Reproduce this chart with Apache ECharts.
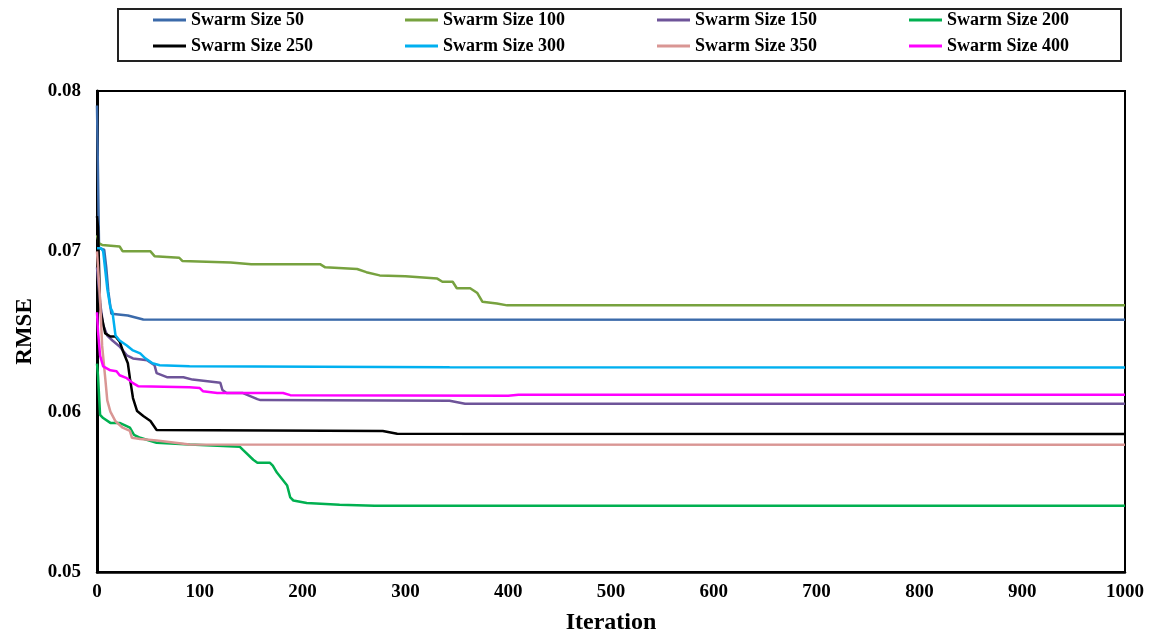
<!DOCTYPE html>
<html>
<head>
<meta charset="utf-8">
<script src="https://cdn.jsdelivr.net/npm/echarts@6/dist/echarts.min.js"></script>
<style>
html,body{margin:0;padding:0;background:#fff;}
#chart{width:1150px;height:640px;}
</style>
</head>
<body>
<div id="chart"></div>
<script>
// ---- data (iteration, RMSE) ----
const seriesNames = ['Swarm Size 50','Swarm Size 100','Swarm Size 150','Swarm Size 200','Swarm Size 250','Swarm Size 300','Swarm Size 350','Swarm Size 400'];
const xTicks = [0,100,200,300,400,500,600,700,800,900,1000];
const yTicks = [0.05,0.06,0.07,0.08];

const swarm50 = [[0,0.0791],[1,0.0790],[2,0.0702],[7,0.0701],[9,0.0690],[11,0.0675],[14,0.0661],[30,0.0660],[45,0.06575],[1000,0.06574]];
const swarm100 = [[0,0.0710],[2,0.0705],[5,0.0704],[22,0.0703],[25,0.0700],[52,0.0700],[56,0.0697],[80,0.0696],[83,0.0694],[130,0.0693],[150,0.0692],[217,0.0692],[222,0.0690],[253,0.0689],[262,0.0687],[275,0.0685],[300,0.06845],[331,0.0683],[336,0.0681],[346,0.0681],[350,0.0677],[363,0.0677],[370,0.0674],[375,0.06685],[389,0.06674],[399,0.06663],[1000,0.06663]];
const swarm150 = [[0,0.0690],[3,0.0668],[6,0.0654],[10,0.06475],[15,0.06444],[22,0.06407],[29,0.06351],[35,0.06332],[49,0.0632],[56,0.06289],[58,0.0624],[68,0.06215],[84,0.06215],[93,0.0620],[120,0.0618],[122,0.06135],[126,0.06116],[142,0.06116],[149,0.06097],[156,0.06078],[159,0.06072],[343,0.06068],[358,0.0605],[1000,0.06049]];
const swarm200 = [[0,0.0630],[1,0.0622],[3,0.0598],[6,0.0596],[13,0.0593],[22,0.0593],[32,0.0590],[36,0.05855],[42,0.05837],[58,0.05806],[90,0.05795],[139,0.05781],[142,0.05762],[152,0.0570],[156,0.05682],[168,0.05682],[171,0.05663],[175,0.0562],[185,0.05539],[188,0.05465],[191,0.05446],[204,0.0543],[236,0.0542],[270,0.05413],[1000,0.05413]];
const swarm250 = [[0,0.0722],[1,0.0715],[3,0.0664],[8,0.06488],[13,0.06469],[18,0.06469],[22,0.06438],[25,0.06382],[30,0.06302],[32,0.06209],[35,0.06085],[39,0.06004],[45,0.05973],[52,0.05942],[58,0.05886],[278,0.0588],[292,0.05862],[1000,0.0586]];
const swarm300 = [[0,0.0702],[4,0.0702],[6,0.0700],[10,0.06767],[13,0.0665],[15,0.06624],[18,0.06475],[22,0.06444],[29,0.06413],[35,0.06382],[42,0.06364],[47,0.06333],[54,0.06302],[61,0.0629],[90,0.06283],[343,0.06277],[1000,0.06275]];
const swarm350 = [[0,0.0700],[3,0.0670],[5,0.0641],[8,0.0621],[10,0.0607],[13,0.0600],[18,0.0594],[25,0.0590],[32,0.0588],[34,0.05837],[42,0.0583],[58,0.0582],[90,0.05795],[1000,0.05793]];
const swarm400 = [[0,0.0662],[1,0.0650],[3,0.0635],[6,0.06283],[13,0.06258],[19,0.06252],[22,0.06227],[29,0.06209],[35,0.06178],[40,0.06159],[90,0.06152],[100,0.06147],[103,0.06128],[117,0.06116],[181,0.06116],[188,0.06103],[400,0.06100],[410,0.06105],[1000,0.06105]];

const allData = [swarm50, swarm100, swarm150, swarm200, swarm250, swarm300, swarm350, swarm400];
const colors = ['#3B6AAA','#77A23F','#6E5499','#00B050','#000000','#00B0F0','#D99694','#FF00FF'];

const FONT = '"Liberation Serif", "Times New Roman", serif';

const chart = echarts.init(document.getElementById('chart'), null, {renderer:'canvas'});
const option = {
  animation: false,
  backgroundColor: '#fff',
  color: colors,
  graphic: [{
    type: 'rect', left: 117, top: 8, z: -1,
    shape: {width: 1003, height: 52},
    style: {fill: '#fff', stroke: '#222', lineWidth: 2}
  }],
  legend: {
    data: seriesNames,
    left: 153, top: 11, width: 1010,
    padding: 0,
    icon: 'rect',
    itemWidth: 33, itemHeight: 3, itemGap: 8,
    textStyle: {fontFamily: FONT, fontWeight: 'bold', fontSize: 18, color: '#000', width: 206, lineHeight: 14}
  },
  grid: {left: 97, right: 25, top: 91, bottom: 65, show: true, borderColor: '#000', borderWidth: 2, backgroundColor: 'transparent'},
  xAxis: {
    type: 'value', min: 0, max: 1000, interval: 100,
    name: 'Iteration', nameLocation: 'middle', nameGap: 39,
    nameTextStyle: {fontFamily: FONT, fontWeight: 'bold', fontSize: 24, color: '#000'},
    axisLine: {show: true, lineStyle: {color: '#000', width: 2.5}},
    axisTick: {show: false},
    splitLine: {show: false},
    axisLabel: {fontFamily: FONT, fontWeight: 'bold', fontSize: 19, color: '#000', margin: 11,
      formatter: v => xTicks.includes(v) ? String(v) : ''}
  },
  yAxis: {
    type: 'value', min: 0.05, max: 0.08, interval: 0.01,
    name: 'RMSE', nameLocation: 'middle', nameGap: 59, nameRotate: 90,
    nameTextStyle: {fontFamily: FONT, fontWeight: 'bold', fontSize: 23, color: '#000'},
    axisLine: {show: true, lineStyle: {color: '#000', width: 3}},
    axisTick: {show: false},
    splitLine: {show: false},
    axisLabel: {fontFamily: FONT, fontWeight: 'bold', fontSize: 19, color: '#000', margin: 16,
      formatter: v => { const t = yTicks.find(k => Math.abs(k - v) < 1e-9); return t !== undefined ? t.toFixed(2) : ''; }}
  },
  series: seriesNames.map((n, i) => ({
    name: n, type: 'line', data: allData[i], symbol: 'none',
    lineStyle: {width: 2.5, color: colors[i]},
    itemStyle: {color: colors[i]}
  }))
};
chart.setOption(option);
</script>
</body>
</html>
